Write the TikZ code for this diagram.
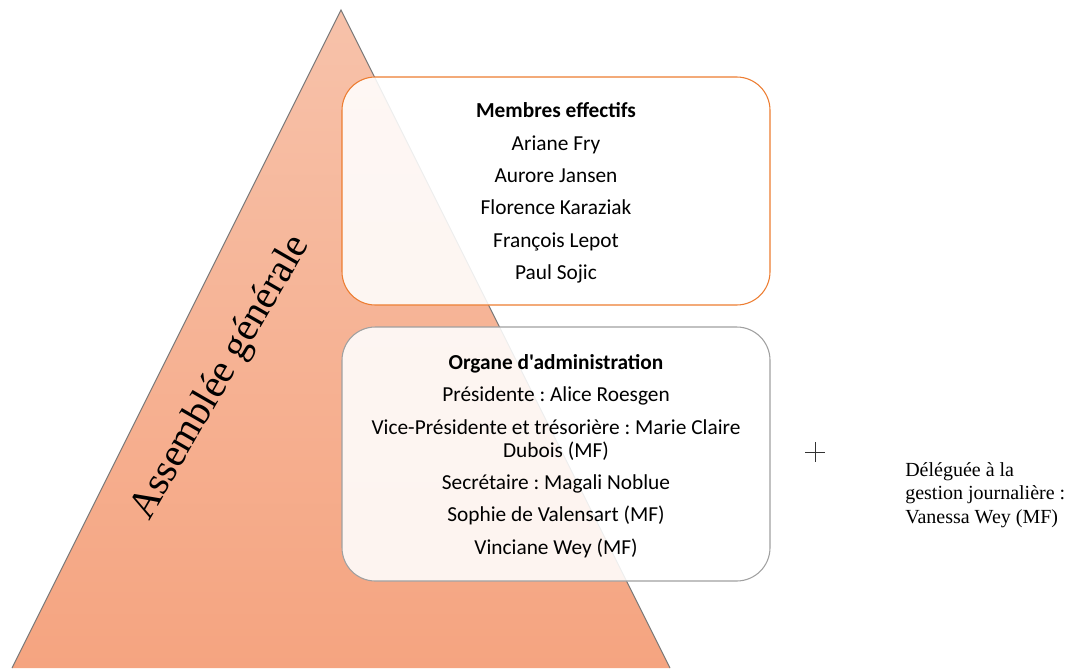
\documentclass[tikz,border=0pt]{standalone}
\usepackage{fontspec}
\setmainfont{Liberation Serif}
\newfontfamily\calib{Carlito}
\frenchspacing
\definecolor{triTop}{RGB}{247,194,170}
\definecolor{triBot}{RGB}{245,164,128}
\definecolor{orangeLine}{RGB}{237,125,49}
\definecolor{grayLine}{RGB}{160,160,160}
\definecolor{edgeGray}{RGB}{120,120,120}
\tikzset{
  listbox/.style={rectangle, rounded corners=25pt, fill=white, fill opacity=0.88,
    line width=0.8pt, minimum width=321pt, inner sep=0pt},
  boxtext/.style={align=center, inner sep=0pt,
    font=\calib\frenchspacing\fontsize{16}{24.3}\selectfont},
  sidetext/.style={align=left, inner sep=0pt, font=\frenchspacing\fontsize{15}{17.6}\selectfont},
  bigtext/.style={inner sep=0pt, font=\fontsize{30}{34}\selectfont}
}
\begin{document}
\begin{tikzpicture}[x=0.75pt,y=-0.75pt]
\useasboundingbox (0,0) rectangle (1070,668);
% pyramid
\shade[top color=triTop, bottom color=triBot] (341,10) -- (670,668) -- (12,668) -- cycle;
\draw[edgeGray, line width=0.7pt] (12,668) -- (341,10) -- (670,668);
\node[bigtext, rotate=60] (ag) at (221,378) {Assemblée générale};
% boxes
\node[listbox, draw=orangeLine, minimum height=171pt] (membres) at (556,191) {};
\node[boxtext] (membresText) at (556,193)
  {\textbf{Membres effectifs}\\Ariane Fry\\Aurore Jansen\\Florence Karaziak\\François Lepot\\Paul Sojic};
\node[listbox, draw=grayLine, minimum height=190.5pt] (organe) at (556,454) {};
\node[boxtext] (organeText) at (556,456)
  {\textbf{Organe d'administration}\\Présidente : Alice Roesgen\\Vice-Présidente et trésorière : Marie Claire\\[-7.1pt]Dubois (MF)\\Secrétaire : Magali Noblue\\Sophie de Valensart (MF)\\Vinciane Wey (MF)};
% plus sign
\draw[black!80, line width=0.7pt] (805,452) -- (825,452) (815,442) -- (815,462);
% side text
\node[sidetext, anchor=north west] (delegue) at (905,462)
  {Déléguée à la\\gestion journalière :\\Vanessa Wey (MF)};
\end{tikzpicture}
\end{document}
